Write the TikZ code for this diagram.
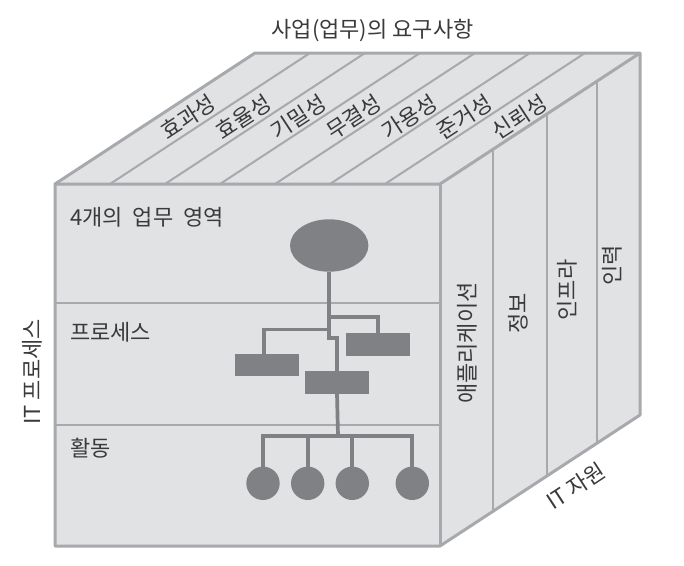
\documentclass[tikz,border=0pt]{standalone}
\usepackage{fontspec}
\setmainfont{Noto Sans CJK KR}
\usetikzlibrary{shapes.geometric}
\definecolor{facefill}{HTML}{E1E2E4}
\definecolor{edgecol}{HTML}{A7A9AC}
\definecolor{shapecol}{HTML}{808184}
\definecolor{txtcol}{HTML}{3A3A3A}
\begin{document}
\begin{tikzpicture}[x=1pt,y=-1pt,
  outer/.style={draw=edgecol,line width=3pt,line join=round},
  inner/.style={draw=edgecol,line width=2pt},
  lbl/.style={text=txtcol,font=\fontsize{22}{25}\selectfont,inner sep=0pt},
  topl/.style={lbl,rotate=33.2},
  sidel/.style={lbl,rotate=90},
  dark/.style={fill=shapecol,draw=none,inner sep=0pt,outer sep=0pt},
  box/.style={dark,rectangle,minimum width=64pt,minimum height=22.5pt},
  leaf/.style={dark,circle,minimum size=33.4pt},
  conn/.style={draw=shapecol,line width=3.7pt,line join=miter}
]
\useasboundingbox (0,0) rectangle (684,565);
% cube corners
\coordinate (A) at (55,184);
\coordinate (B) at (440,184);
\coordinate (C) at (440,546);
\coordinate (D) at (55,546);
\coordinate (E) at (255,53);
\coordinate (F) at (640,53);
\coordinate (G) at (640,415);
\fill[facefill] (A)--(E)--(F)--(G)--(C)--(D)--cycle;
% top strips
\foreach \i in {1,...,6}
  \draw[inner] ({55+55*\i},184) -- ({255+55*\i},53);
% right face columns
\foreach \t in {0.265,0.535,0.785}
  \draw[inner] ({440+200*\t},{184-131*\t}) -- ({440+200*\t},{546-131*\t});
% front layers
\draw[inner] (55,303.3) -- (440,303.3);
\draw[inner] (55,425) -- (440,425);
% outline
\draw[outer] (A)--(E)--(F)--(G)--(C)--(D)--cycle;
\draw[outer] (A)--(B)--(F);
\draw[outer] (B)--(C);
% labels
\node[lbl] (title) at (372.5,30) {사업(업무)의 요구사항};
\foreach \t [count=\i from 0] in {효과성,효율성,기밀성,무결성,가용성,준거성,신뢰성}
  \node[topl] (t\i) at ({188+55.3*\i},117) {\t};
\node[lbl,anchor=west] (l1) at (70,217) {4개의\hspace{0.45em}업무\hspace{0.45em}영역};
\node[lbl,anchor=west] (l2) at (70,332.5) {프로세스};
\node[lbl,anchor=west] (l3) at (70,448) {활동};
\node[sidel] (r1) at (467,343) {애플리케이션};
\node[sidel] (r2) at (518,313) {정보};
\node[sidel] (r3) at (567,290) {인프라};
\node[sidel] (r4) at (612.5,265) {인력};
\node[sidel] (itp) at (32.5,372) {IT 프로세스};
\node[topl] (itr) at (576,486) {IT 자원};
% tree
\node[dark,ellipse,minimum width=78.4pt,minimum height=52.4pt] (e) at (329.2,245.5) {};
\node[box] (pr) at (378,344.4) {};
\node[box] (pl) at (266.8,365) {};
\node[box] (pm) at (337,382.7) {};
\node[leaf] (c1) at (263,483.3) {};
\node[leaf] (c2) at (307.7,483.3) {};
\node[leaf] (c3) at (352.3,483.3) {};
\node[leaf] (c4) at (412.3,483.3) {};
\coordinate (j1) at (329.2,337.7);
\coordinate (j2) at (329.2,317.3);
\coordinate (j3) at (329.2,329.5);
\coordinate (j4) at (338,435.7);
\draw[conn] (e.south) -- (j1) -| (pm.north);
\draw[conn] (j2) -| (pr.north);
\draw[conn] (j3) -| ([xshift=-2.5pt]pl.north);
\draw[conn] (pm.south) -- (j4);
\foreach \c in {c1,c2,c3,c4}
  \draw[conn] (j4) -| (\c.north);
\end{tikzpicture}
\end{document}
